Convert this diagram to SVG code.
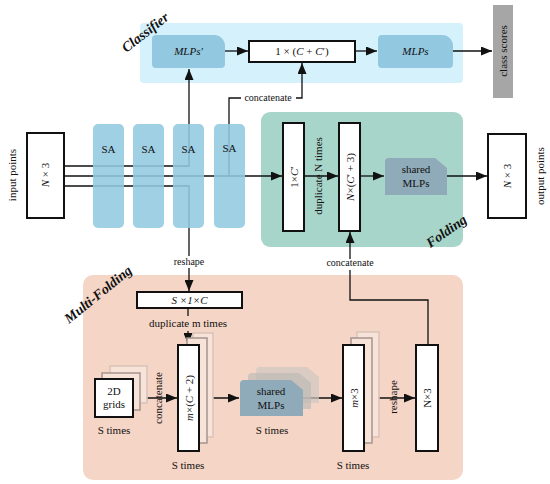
<svg xmlns="http://www.w3.org/2000/svg" width="550" height="484" viewBox="0 0 550 484">
<style>
text{font-family:"Liberation Serif","Times New Roman",serif;fill:#111}
.t{font-size:11px}
.s{font-size:10px}
.m{font-size:11px;font-style:italic}
.lbl{font-size:14px;font-weight:bold;font-style:italic}
.box{fill:#fff;stroke:#111;stroke-width:2}
.sa{fill:#92c9e0;fill-opacity:0.88}
.mlp{fill:#92c8e0}
.sh{fill:#8faab8}
.ln{fill:none;stroke:#111;stroke-width:1.3}
.ar{marker-end:url(#ah)}
.bk1{fill:#f8e3d9;stroke:#a3958f;stroke-width:1.5}
.bk2{fill:#f8e3d9;stroke:#d9c2b8;stroke-width:1.5}
</style>
<defs>
<marker id="ah" markerUnits="userSpaceOnUse" markerWidth="11" markerHeight="9" refX="11" refY="4.5" orient="auto"><path d="M0,0 L11,4.5 L0,9 z" fill="#111"/></marker>
</defs>

<!-- backgrounds -->
<g id="classifier">
<rect x="140" y="23" width="323" height="60" rx="4" fill="#d5f1fb"/>
<text class="lbl" transform="translate(148,36) rotate(-38)" text-anchor="middle">Classifier</text>
</g>
<g id="folding">
<rect x="261" y="112" width="202" height="135" rx="9" fill="#a8d5c9"/>
<text class="lbl" transform="translate(449,235) rotate(-35)" text-anchor="middle">Folding</text>
</g>
<g id="multi-folding">
<rect x="83" y="275" width="380" height="205" rx="10" fill="#f5d5c6"/>
<text class="lbl" transform="translate(101,298) rotate(-39)" text-anchor="middle">Multi-Folding</text>
</g>

<!-- connectors -->
<g id="connectors">
<path class="ln ar" d="M64,166 H189 V69"/>
<path class="ln ar" d="M64,176 H282"/>
<path class="ln" d="M64,186 H189 V256"/>
<path class="ln" d="M229,176 V98 H241"/>
<path class="ln ar" d="M296,98 H302 V63"/>
<path class="ln ar" d="M225,51 H248"/>
<path class="ln ar" d="M356,51 H377"/>
<path class="ln ar" d="M453,51 H492"/>
<path class="ln ar" d="M304,176 H338"/>
<path class="ln ar" d="M360,176 H384"/>
<path class="ln ar" d="M447,176 H487"/>
<path class="ln ar" d="M189,268 V291"/>
<path class="ln" d="M188,308 V316"/>
<path class="ln ar" d="M188,331 V344"/>
<path class="ln ar" d="M133,398 H177"/>
<path class="ln ar" d="M199,398 H239"/>
<path class="ln ar" d="M303,398 H342"/>
<path class="ln ar" d="M364,398 H415"/>
<path class="ln" d="M428,345 V300 H350 V270"/>
<path class="ln ar" d="M350,259 V232"/>
</g>

<text class="s" x="268" y="101" text-anchor="middle">concatenate</text>
<text class="s" x="189" y="265" text-anchor="middle">reshape</text>
<text class="s" x="350" y="266" text-anchor="middle">concatenate</text>

<g id="input">
<rect class="box" x="27" y="133" width="37" height="85"/>
<text class="t" transform="translate(49,175) rotate(-90)" text-anchor="middle"><tspan font-style="italic">N</tspan> × 3</text>
<text class="t" transform="translate(16,175) rotate(-90)" text-anchor="middle">input points</text>
</g>

<g id="sa1"><rect class="sa" x="93" y="124" width="31" height="104" rx="5"/><text class="t" x="108.5" y="153" text-anchor="middle">SA</text></g>
<g id="sa2"><rect class="sa" x="133" y="124" width="31" height="104" rx="5"/><text class="t" x="148.5" y="153" text-anchor="middle">SA</text></g>
<g id="sa3"><rect class="sa" x="173" y="124" width="31" height="104" rx="5"/><text class="t" x="188.5" y="153" text-anchor="middle">SA</text></g>
<g id="sa4"><rect class="sa" x="214" y="124" width="31" height="104" rx="5"/><text class="t" x="229.5" y="152" text-anchor="middle">SA</text></g>

<g id="mlps-prime">
<path class="mlp" d="M156,35 H214 A11,11 0 0 1 225,46 V64 A4,4 0 0 1 221,68 H156 A4,4 0 0 1 152,64 V39 A4,4 0 0 1 156,35 Z"/>
<text class="m" x="188.5" y="55" text-anchor="middle">MLPs′</text>
</g>
<g id="concat-classifier">
<rect class="box" x="249" y="41" width="106" height="21"/>
<text class="t" x="302" y="55" text-anchor="middle">1 × (<tspan font-style="italic">C</tspan> + <tspan font-style="italic">C</tspan>′)</text>
</g>
<g id="mlps">
<path class="mlp" d="M382,35 H442 A11,11 0 0 1 453,46 V64 A4,4 0 0 1 449,68 H382 A4,4 0 0 1 378,64 V39 A4,4 0 0 1 382,35 Z"/>
<text class="m" x="415.5" y="55" text-anchor="middle">MLPs</text>
</g>
<g id="class-scores">
<rect x="493" y="5" width="20" height="93" fill="#a6a6a6"/>
<text class="t" transform="translate(507,51) rotate(-90)" text-anchor="middle">class scores</text>
</g>

<g id="feat-1xc">
<rect class="box" x="283" y="123" width="21" height="108"/>
<text class="t" transform="translate(297.5,177) rotate(-90)" text-anchor="middle">1×<tspan font-style="italic">C</tspan>′</text>
</g>
<text class="t" transform="translate(322,176) rotate(-90)" text-anchor="middle">duplicate N times</text>
<g id="feat-ncp3">
<rect class="box" x="339" y="123" width="21" height="108"/>
<text class="t" transform="translate(353.5,177) rotate(-90)" text-anchor="middle"><tspan font-style="italic">N</tspan>×(<tspan font-style="italic">C</tspan>′ + 3)</text>
</g>
<g id="shared-mlps-folding">
<path class="sh" d="M389,158 H435 L447,168 V195 H385 V162 Q385,158 389,158 Z"/>
<text class="t" x="416" y="173" text-anchor="middle">shared</text>
<text class="t" x="416" y="187" text-anchor="middle">MLPs</text>
</g>
<g id="output">
<rect class="box" x="488" y="134" width="38" height="84"/>
<text class="t" transform="translate(511,176) rotate(-90)" text-anchor="middle"><tspan font-style="italic">N</tspan> × 3</text>
<text class="t" transform="translate(544,176) rotate(-90)" text-anchor="middle">output points</text>
</g>

<g id="s1c">
<rect class="box" x="137" y="292" width="105" height="16"/>
<text class="m" x="189.5" y="304" text-anchor="middle">S ×1×C</text>
</g>
<text class="t" x="188" y="327" text-anchor="middle">duplicate m times</text>

<g id="grids">
<rect class="bk2" x="110" y="366" width="37" height="37"/>
<rect class="bk1" x="102" y="373" width="38" height="37"/>
<rect class="box" x="95" y="379" width="38" height="38"/>
<text class="t" x="114" y="395" text-anchor="middle">2D</text>
<text class="t" x="114" y="408" text-anchor="middle">grids</text>
<text class="t" x="114" y="434" text-anchor="middle">S times</text>
</g>
<text class="t" transform="translate(162,398) rotate(-90)" text-anchor="middle">concatenate</text>

<g id="feat-mc2">
<rect class="bk2" x="193" y="333" width="20" height="104"/>
<rect class="bk1" x="187" y="338" width="20" height="105"/>
<rect class="box" x="178" y="345" width="21" height="106"/>
<text class="t" transform="translate(192.5,398) rotate(-90)" text-anchor="middle"><tspan font-style="italic">m</tspan>×(<tspan font-style="italic">C</tspan> + 2)</text>
<text class="t" x="188" y="469" text-anchor="middle">S times</text>
</g>

<g id="shared-mlps-multi">
<path d="M260,367 H307 L319,377 V403 H256 V371 Q256,367 260,367 Z" fill="#cfc7c2" opacity="0.7"/>
<path d="M252,373 H299 L311,383 V409 H248 V377 Q248,373 252,373 Z" fill="#bfbab7" opacity="0.7"/>
<path class="sh" d="M244,380 H291 L303,390 V416 H240 V384 Q240,380 244,380 Z"/>
<text class="t" x="271" y="395" text-anchor="middle">shared</text>
<text class="t" x="271" y="409" text-anchor="middle">MLPs</text>
<text class="t" x="272" y="434" text-anchor="middle">S times</text>
</g>

<g id="feat-m3">
<rect class="bk2" x="357" y="332" width="22" height="105"/>
<rect class="bk1" x="351" y="338" width="21" height="105"/>
<rect class="box" x="343" y="345" width="21" height="106"/>
<text class="t" transform="translate(357.5,398) rotate(-90)" text-anchor="middle"><tspan font-style="italic">m</tspan>×3</text>
<text class="t" x="353" y="469" text-anchor="middle">S times</text>
</g>
<text class="t" transform="translate(397,397) rotate(-90)" text-anchor="middle">reshape</text>

<g id="feat-n3">
<rect class="box" x="416" y="345" width="22" height="106"/>
<text class="t" transform="translate(431,398) rotate(-90)" text-anchor="middle" font-family="Liberation Sans, Arial, sans-serif">N×3</text>
</g>
</svg>
